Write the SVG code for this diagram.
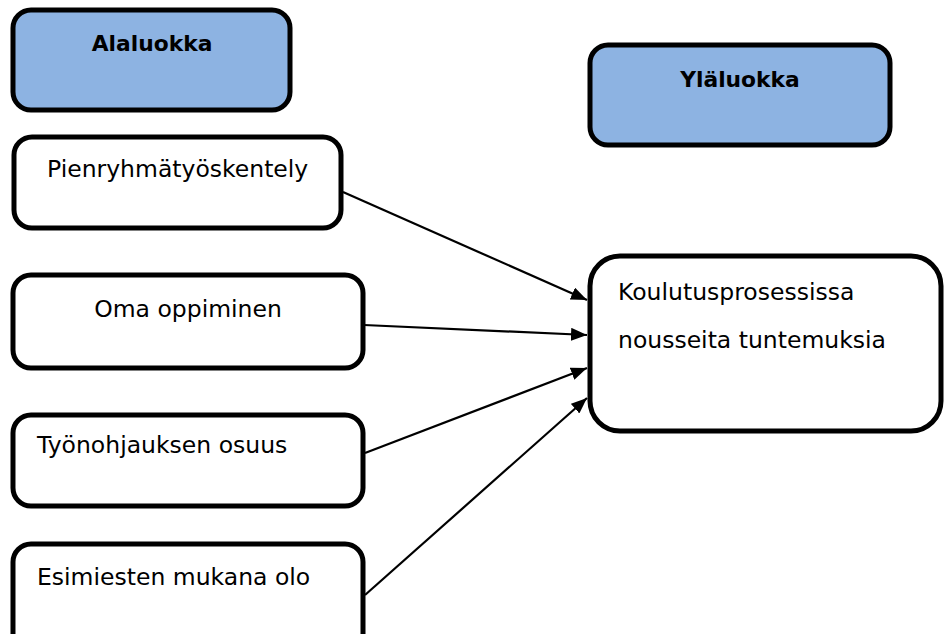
<svg xmlns="http://www.w3.org/2000/svg" width="945" height="634" viewBox="0 0 945 634">
<defs>
<style>
.box{stroke:#000;stroke-width:5;}
.blue{fill:#8db3e2;}
.white{fill:#fff;}
.t{font-family:"DejaVu Sans","Liberation Sans",sans-serif;font-size:23.5px;fill:#000;}
.b{font-weight:bold;font-size:21.8px;}
.c{stroke:#000;stroke-width:2.2;fill:none;marker-end:url(#ah);}
</style>
<marker id="ah" viewBox="0 0 16 13" refX="16" refY="6.5" markerWidth="16" markerHeight="13" markerUnits="userSpaceOnUse" orient="auto">
<path d="M0,0 L16,6.5 L0,13 z" fill="#000"/>
</marker>
</defs>
<rect width="945" height="634" fill="#fff"/>
<g id="alaluokka">
<rect class="box blue" x="13" y="10" width="277" height="100" rx="18"/>
<text class="t b" x="152" y="51" text-anchor="middle">Alaluokka</text>
</g>
<g id="ylaluokka">
<rect class="box blue" x="590" y="45" width="300" height="100" rx="18"/>
<text class="t b" x="740" y="87" text-anchor="middle">Yläluokka</text>
</g>
<g id="pienryhma">
<rect class="box white" x="14" y="137" width="327" height="91" rx="18"/>
<text class="t" x="47" y="177">Pienryhmätyöskentely</text>
</g>
<g id="oma">
<rect class="box white" x="13" y="275" width="350" height="93" rx="18"/>
<text class="t" x="188" y="317" text-anchor="middle">Oma oppiminen</text>
</g>
<g id="tyonohjaus">
<rect class="box white" x="13" y="415" width="350" height="91" rx="18"/>
<text class="t" x="37" y="453">Työnohjauksen osuus</text>
</g>
<g id="esimiehet">
<rect class="box white" x="13" y="544" width="350" height="110" rx="18"/>
<text class="t" x="37" y="585">Esimiesten mukana olo</text>
</g>
<g id="koulutus">
<rect class="box white" x="590" y="256" width="351" height="175" rx="30"/>
<text class="t" x="618" y="300">Koulutusprosessissa</text>
<text class="t" x="618" y="348">nousseita tuntemuksia</text>
</g>
<g id="connectors">
<line class="c" x1="343" y1="192" x2="587" y2="300"/>
<line class="c" x1="364" y1="325" x2="587" y2="335"/>
<line class="c" x1="365" y1="453" x2="587" y2="368"/>
<line class="c" x1="365" y1="595" x2="587" y2="398"/>
</g>
</svg>
